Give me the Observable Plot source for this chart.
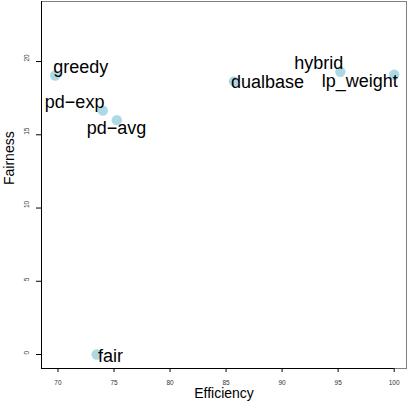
<!DOCTYPE html>
<html>
<head>
<meta charset="utf-8">
<script src="https://cdn.jsdelivr.net/npm/d3@7"></script>
<script src="https://cdn.jsdelivr.net/npm/@observablehq/plot@0.6"></script>
<style>
  html, body { margin: 0; padding: 0; background: white; }
  svg { display: block; }
</style>
</head>
<body>
<div id="chart"></div>
<script>
// ---- data ----
const methods    = ["greedy", "pd\u2212exp", "pd\u2212avg", "dualbase", "hybrid", "lp_weight", "fair"];
const efficiency = [69.75, 74.0, 75.25, 85.7, 95.2, 100.0, 73.45];
const fairness   = [19.05, 16.65, 16.0, 18.65, 19.3, 19.1, 0.0];
const xTicks = [70, 75, 80, 85, 90, 95, 100];
const yTicks = [0, 5, 10, 15, 20];
const xTitle = "Efficiency";
const yTitle = "Fairness";

// ---- layout (label placement relative to each point) ----
const placement = {
  "greedy":    {anchor: "start",  dx: -2,   dy: -8.7},
  "pd\u2212exp":    {anchor: "end",    dx: 1.6,  dy: -8.1},
  "pd\u2212avg":    {anchor: "middle", dx: -0.4, dy: 8.1},
  "dualbase":  {anchor: "start",  dx: -3,   dy: 1.2},
  "hybrid":    {anchor: "end",    dx: 2.8,  dy: -8.3},
  "lp_weight": {anchor: "end",    dx: 3.7,  dy: 6.8},
  "fair":      {anchor: "start",  dx: 1.4,  dy: 1.7}
};

const data = methods.map((m, i) => ({method: m, efficiency: efficiency[i], fairness: fairness[i]}));
const xDomain = [68.53, 101.1];
const yDomain = [-0.955, 24.1];

const labelMarks = data.map(d => Plot.text([d], {
  x: "efficiency", y: "fairness", text: "method",
  textAnchor: placement[d.method].anchor,
  dx: placement[d.method].dx, dy: placement[d.method].dy,
  fontSize: 18, fill: "black"
}));

const chart = Plot.plot({
  width: 407,
  height: 403,
  marginLeft: 41,
  marginRight: 1,
  marginTop: 1,
  marginBottom: 35,
  style: {fontFamily: "'Liberation Sans', Arial, Helvetica, sans-serif", background: "white", color: "black"},
  x: {domain: xDomain},
  y: {domain: yDomain},
  marks: [
    Plot.frame({stroke: "#808080"}),
    Plot.ruleX([xDomain[0]], {stroke: "black"}),
    Plot.ruleY([yDomain[0]], {x1: xDomain[0], x2: xTicks[xTicks.length - 1], stroke: "black"}),
    Plot.axisX({ticks: xTicks, tickSize: 4, tickPadding: 7.5, fontSize: 6.5, label: null, tickFormat: d => String(d), fill: "#333"}),
    Plot.axisY({ticks: yTicks, tickSize: 5, tickFormat: () => "", label: null}),
    Plot.text(yTicks, {y: d => d, text: d => String(d), frameAnchor: "left", dx: -14.8, rotate: -90, fontSize: 6.5, fill: "#333"}),
    Plot.text([xTitle], {text: d => d, frameAnchor: "bottom", dy: 29.8, fontSize: 14, fill: "black"}),
    Plot.text([yTitle], {text: d => d, frameAnchor: "left", dx: -31.5, rotate: -90, fontSize: 14, fill: "black"}),
    Plot.dot(data, {x: "efficiency", y: "fairness", r: 5.2, fill: "lightblue", stroke: "none"}),
    ...labelMarks
  ]
});
document.getElementById("chart").appendChild(chart);
</script>
</body>
</html>
